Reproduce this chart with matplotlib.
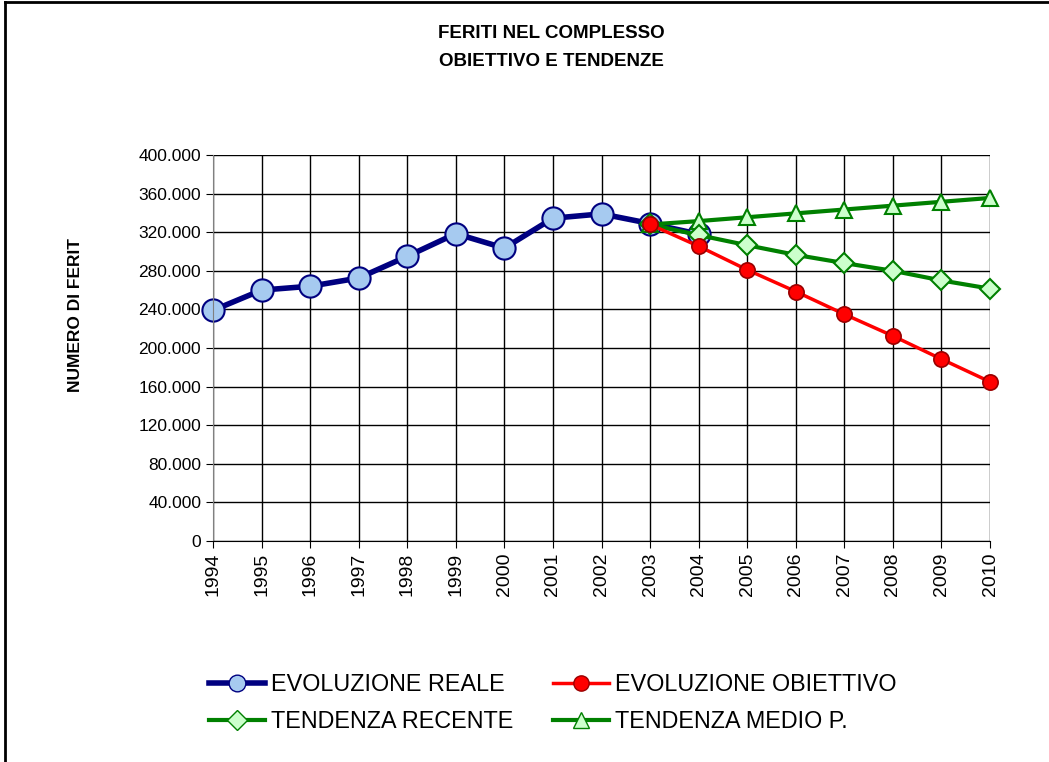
import matplotlib
matplotlib.use("Agg")
import matplotlib.pyplot as plt
from matplotlib.ticker import FuncFormatter, MultipleLocator
from matplotlib.lines import Line2D

years = list(range(1994, 2011))
reale_years = list(range(1994, 2005))
reale = [239000, 260000, 264000, 272500, 295000, 318500, 303500, 334500, 339000, 329000, 318000]
trend_years = list(range(2003, 2011))
obiettivo = [328000, 305500, 281000, 258500, 235000, 212500, 188500, 165000]
recente = [328000, 317000, 306500, 296500, 288000, 280000, 270000, 261500]
medio = [328000, 331500, 335500, 339500, 343500, 347500, 351500, 355500]

labels = ["EVOLUZIONE REALE", "EVOLUZIONE OBIETTIVO", "TENDENZA RECENTE", "TENDENZA MEDIO P."]

plt.rcParams['font.family'] = ['Liberation Sans', 'DejaVu Sans']

fig = plt.figure(figsize=(10.49, 7.62), dpi=100)
ax = fig.add_axes([213/1049, 1-541/762, (990-213)/1049, (541-155)/762])

green = '#008000'
ax.plot(trend_years, medio, color=green, lw=3, marker='^', ms=12, mfc='#ccffcc', mec=green, mew=1.5, clip_on=False, zorder=3)
ax.plot(trend_years, recente, color=green, lw=3, marker='D', ms=10, mfc='#ccffcc', mec=green, mew=1.5, clip_on=False, zorder=3)
ax.plot(trend_years, obiettivo, color='#ff0000', lw=2.5, marker='o', ms=11, mfc='#ff0000', mec='#990000', mew=1.2, clip_on=False, zorder=3)
ax.plot(reale_years, reale, color='#000080', lw=4, marker='o', ms=16, mfc='#a6caf0', mec='#000080', mew=1.5, clip_on=False, zorder=2)

ax.set_xlim(1994, 2010)
ax.set_ylim(0, 400000)
ax.yaxis.set_major_locator(MultipleLocator(40000))
ax.set_xticks(years)
ax.set_xticklabels([str(y) for y in years], rotation=90, fontsize=14)
ax.yaxis.set_major_formatter(FuncFormatter(lambda v, p: "0" if v == 0 else f"{int(v):,}".replace(",", ".")))
ax.tick_params(axis='y', labelsize=12.5, length=5, direction='out', color='black')
ax.tick_params(axis='x', length=5, direction='out')
ax.grid(True, color='black', lw=1)
ax.set_axisbelow(True)
for s in ax.spines.values():
    s.set_visible(False)
ax.spines['left'].set_visible(True)
ax.spines['left'].set_color('#808080')
ax.spines['bottom'].set_visible(True)

fig.text(551/1049, 1-33/762, "FERITI NEL COMPLESSO", ha='center', va='center', fontsize=13.5, fontweight='bold')
fig.text(551/1049, 1-62/762, "OBIETTIVO E TENDENZE", ha='center', va='center', fontsize=13.5, fontweight='bold')
fig.text(75/1049, 1-315/762, "NUMERO DI FERIT", ha='center', va='center', rotation=90, fontsize=12.5, fontweight='bold')

h_reale = Line2D([], [], color='#000080', lw=4, marker='o', ms=12, mfc='#a6caf0', mec='#000080')
h_obj = Line2D([], [], color='#ff0000', lw=2.5, marker='o', ms=11, mfc='#ff0000', mec='#990000')
h_rec = Line2D([], [], color=green, lw=3, marker='D', ms=10, mfc='#ccffcc', mec=green)
h_med = Line2D([], [], color=green, lw=3, marker='^', ms=12, mfc='#ccffcc', mec=green)
# column-major order so rows read: reale | obiettivo, recente | medio
fig.legend([h_reale, h_rec, h_obj, h_med], [labels[0], labels[2], labels[1], labels[3]],
           ncol=2, loc='center', bbox_to_anchor=(553/1049, 1-703/762),
           frameon=False, fontsize=16.8, handlelength=2.4, handletextpad=0.25, columnspacing=1.7,
           labelspacing=0.6)

# outer frame (left and top)
fig.add_artist(Line2D([5/1049, 5/1049], [0, 1-2/762], transform=fig.transFigure, color='black', lw=2))
fig.add_artist(Line2D([5/1049, 1], [1-2/762, 1-2/762], transform=fig.transFigure, color='black', lw=2))

fig.savefig("out.png", dpi=100)
